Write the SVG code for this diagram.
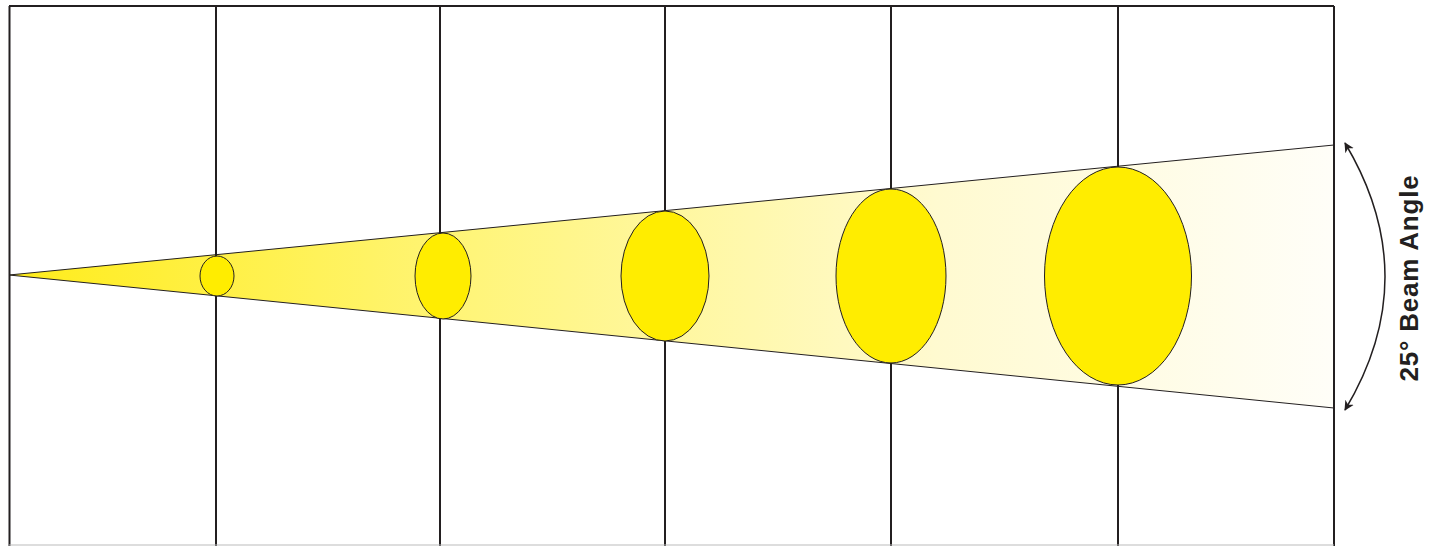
<svg xmlns="http://www.w3.org/2000/svg" width="1429" height="546" viewBox="0 0 1429 546">
<style>
.grid{stroke:#231f20;stroke-width:2;fill:none}
.spot{fill:#ffed00;stroke:#231f20;stroke-width:1}
.label{font-family:"Liberation Sans",Arial,sans-serif;font-weight:bold;font-size:26px;letter-spacing:0.8px;fill:#231f20}
</style>
<defs>
<linearGradient id="beamGrad" x1="9" y1="0" x2="1334" y2="0" gradientUnits="userSpaceOnUse">
<stop offset="0" stop-color="#ffec1a"/>
<stop offset="0.35" stop-color="#fff57a"/>
<stop offset="0.7" stop-color="#fffad0"/>
<stop offset="1" stop-color="#fffef8"/>
</linearGradient>
<marker id="arrow" viewBox="0 0 10 10" refX="9" refY="5" markerWidth="10" markerHeight="10" markerUnits="userSpaceOnUse" orient="auto-start-reverse">
<path d="M0,0 L10,5 L0,10 L3,5 Z" fill="#231f20"/>
</marker>
</defs>
<rect width="1429" height="546" fill="#ffffff"/>
<g id="beam">
<polygon points="9,275 1334,145 1334,408" fill="url(#beamGrad)" stroke="#231f20" stroke-width="1"/>
</g>
<g id="grid">
<line class="grid" x1="9" y1="6" x2="1334" y2="6"/>
<line class="grid" x1="9.5" y1="6" x2="9.5" y2="546"/>
<line class="grid" x1="216" y1="6" x2="216" y2="546"/>
<line class="grid" x1="440" y1="6" x2="440" y2="546"/>
<line class="grid" x1="665" y1="6" x2="665" y2="546"/>
<line class="grid" x1="891" y1="6" x2="891" y2="546"/>
<line class="grid" x1="1118" y1="6" x2="1118" y2="546"/>
<line class="grid" x1="1334" y1="6" x2="1334" y2="546"/>
<line x1="9" y1="545" x2="1334" y2="545" stroke="#bbbbbb" stroke-width="1"/>
</g>
<g id="spot1"><ellipse class="spot" cx="217" cy="276" rx="17" ry="20"/></g>
<g id="spot2"><ellipse class="spot" cx="443" cy="276" rx="28" ry="43"/></g>
<g id="spot3"><ellipse class="spot" cx="665" cy="276" rx="44" ry="65"/></g>
<g id="spot4"><ellipse class="spot" cx="891" cy="276" rx="55" ry="87"/></g>
<g id="spot5"><ellipse class="spot" cx="1118" cy="276" rx="73.5" ry="109"/></g>
<g id="connectors">
<path d="M1345,143 Q1425,277 1345,410" fill="none" stroke="#231f20" stroke-width="1.5" marker-start="url(#arrow)" marker-end="url(#arrow)"/>
</g>
<g id="label">
<text class="label" transform="translate(1418,278) rotate(-90)" text-anchor="middle">25° Beam Angle</text>
</g>
</svg>
